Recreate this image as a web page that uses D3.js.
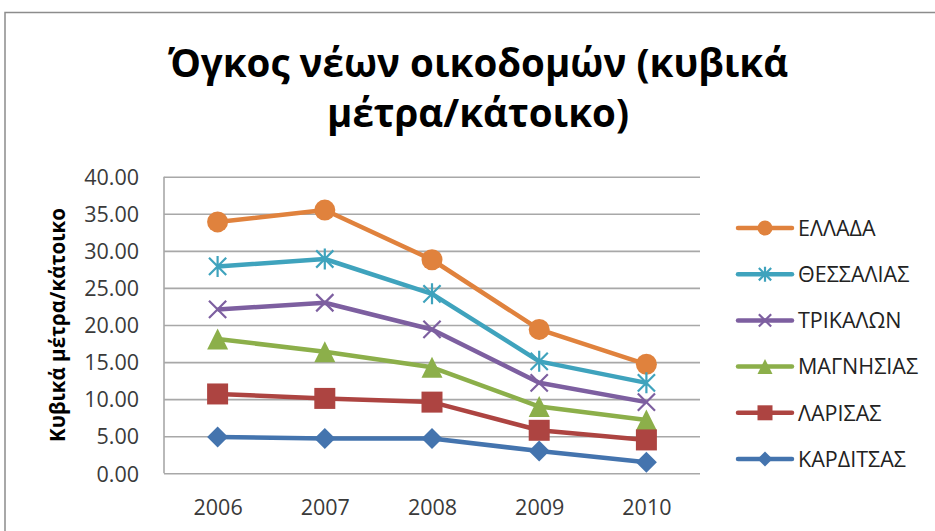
<!DOCTYPE html>
<html>
<head>
<meta charset="utf-8">
<script src="https://cdn.jsdelivr.net/npm/d3@7"></script>
<style>
  body { margin: 0; background: #fff; }
  svg { display: block; }
  .tick-label { font-family: "Open Sans", sans-serif; fill: #3a3a3a; }
</style>
</head>
<body>
<div id="chart"></div>
<script>
// Όγκος νέων οικοδομών ανά κάτοικο, 2006-2010

let years = ["2006", "2007", "2008", "2009", "2010"];
let yTicks = [0, 5, 10, 15, 20, 25, 30, 35, 40];

let ellada     = [33.9, 35.5, 28.8, 19.4, 14.7];
let thessalias = [27.9, 28.9, 24.2, 15.1, 12.2];
let trikalon   = [22.1, 23.0, 19.4, 12.2, 9.6];
let magnisias  = [18.1, 16.4, 14.3, 9.0, 7.2];
let larisas    = [10.7, 10.1, 9.6, 5.8, 4.5];
let karditsas  = [4.9, 4.7, 4.7, 3.0, 1.5];

let seriesNames = ["ΕΛΛΑΔΑ", "ΘΕΣΣΑΛΙΑΣ", "ΤΡΙΚΑΛΩΝ", "ΜΑΓΝΗΣΙΑΣ", "ΛΑΡΙΣΑΣ", "ΚΑΡΔΙΤΣΑΣ"];
let seriesValues = [ellada, thessalias, trikalon, magnisias, larisas, karditsas];

let colors  = ["#E0823D", "#3FA3BD", "#7D5FA0", "#8CAF4A", "#AD4441", "#4474AE"];
let markers = ["circle", "star", "x", "triangle", "square", "diamond"];

let series = seriesNames.map(function(name, i) {
    return {name: name, color: colors[i], marker: markers[i],
            values: seriesValues[i].map(function(v, j) { return {year: years[j], value: v}; })};
});

let W = 935, H = 531;
let plot = {left: 164, right: 700, top: 176.7, bottom: 473.3};

let svg = d3.select("#chart").append("svg")
    .attr("width", W)
    .attr("height", H);

// outer frame of the chart
svg.append("rect")
    .attr("x", 5).attr("y", 12.5)
    .attr("width", W + 20).attr("height", H + 20)
    .attr("fill", "none")
    .attr("stroke", "#8c8c8c")
    .attr("stroke-width", 1.5);

let x = d3.scalePoint()
    .domain(years)
    .range([plot.left, plot.right])
    .padding(0.5);

let y = d3.scaleLinear()
    .domain([0, 40])
    .range([plot.bottom, plot.top]);

// marker shapes, s = box size
function markerPath(type, s) {
    let h = s / 2;
    if (type == "circle") return d3.symbol(d3.symbolCircle, Math.PI * h * h)();
    if (type == "square") return "M" + (-h) + "," + (-h) + "h" + s + "v" + s + "h" + (-s) + "Z";
    if (type == "triangle") return "M0," + (-h) + "L" + h + "," + h + "L" + (-h) + "," + h + "Z";
    if (type == "diamond") return "M0," + (-h) + "L" + h + ",0L0," + h + "L" + (-h) + ",0Z";
    let k = h * 0.82;
    let p = "M" + (-k) + "," + (-k) + "L" + k + "," + k + "M" + k + "," + (-k) + "L" + (-k) + "," + k;
    if (type == "star") p += "M0," + (-h) + "V" + h;
    return p;
}

function drawMarker(sel, d, s) {
    let stroked = d.marker == "star" || d.marker == "x";
    sel.append("path")
        .attr("d", markerPath(d.marker, s))
        .attr("fill", stroked ? "none" : d.color)
        .attr("stroke", d.color)
        .attr("stroke-width", stroked ? 2.2 : 0);
}

// grid
let yAxis = d3.axisLeft(y)
    .tickValues(yTicks)
    .tickSize(-(plot.right - plot.left))
    .tickFormat(d3.format(".2f"));

let gy = svg.append("g")
    .attr("class", "y axis")
    .attr("transform", "translate(" + plot.left + ",0)")
    .call(yAxis);
gy.select(".domain").remove();
gy.selectAll(".tick line").attr("stroke", "#a8a8a8").attr("stroke-width", 1.6);
gy.selectAll(".tick text")
    .attr("class", "tick-label")
    .attr("x", -25)
    .attr("dy", "0.36em")
    .style("font-size", "21.5px");

svg.append("line")
    .attr("x1", plot.left).attr("x2", plot.left)
    .attr("y1", plot.top).attr("y2", plot.bottom)
    .attr("stroke", "#a8a8a8").attr("stroke-width", 1.6);

let xAxis = d3.axisBottom(x).tickSize(0);
let gx = svg.append("g")
    .attr("class", "x axis")
    .attr("transform", "translate(0," + plot.bottom + ")")
    .call(xAxis);
gx.select(".domain").remove();
gx.selectAll(".tick text")
    .attr("class", "tick-label")
    .attr("y", 42)
    .attr("dy", "0")
    .style("font-size", "21.5px");

// lines
let line = d3.line()
    .x(function(d) { return x(d.year); })
    .y(function(d) { return y(d.value); });

series.forEach(function(s) {
    svg.append("path")
        .datum(s.values)
        .attr("fill", "none")
        .attr("stroke", s.color)
        .attr("stroke-width", 4.5)
        .attr("stroke-linejoin", "round")
        .attr("d", line);

    s.values.forEach(function(v) {
        let g = svg.append("g")
            .attr("transform", "translate(" + x(v.year) + "," + y(v.value) + ")");
        drawMarker(g, s, 21);
    });
});

// title
let title = svg.append("text")
    .attr("text-anchor", "middle")
    .style("font-family", "'Open Sans', sans-serif")
    .style("font-weight", "bold")
    .style("font-size", "38.5px")
    .attr("fill", "#000");
title.append("tspan").attr("x", 478).attr("y", 77).text("Όγκος νέων οικοδομών (κυβικά");
title.append("tspan").attr("x", 478).attr("y", 127).text("μέτρα/κάτοικο)");

// y axis title
svg.append("text")
    .attr("transform", "translate(65," + ((plot.top + plot.bottom) / 2) + ") rotate(-90)")
    .attr("text-anchor", "middle")
    .style("font-family", "'Open Sans', sans-serif")
    .style("font-weight", "bold")
    .style("font-size", "20.5px")
    .attr("fill", "#000")
    .text("Κυβικά μέτρα/κάτοικο");

// legend
let legend = svg.selectAll(".legend")
    .data(series)
    .enter().append("g")
    .attr("class", "legend")
    .attr("transform", function(d, i) { return "translate(738," + (228 + i * 46.2) + ")"; });

legend.append("line")
    .attr("x1", 0).attr("x2", 54)
    .attr("stroke", function(d) { return d.color; })
    .attr("stroke-width", 4.5)
    .attr("stroke-linecap", "round");

legend.each(function(d) {
    let g = d3.select(this).append("g").attr("transform", "translate(27,0)");
    drawMarker(g, d, 15);
});

legend.append("text")
    .attr("class", "tick-label")
    .attr("x", 60)
    .attr("dy", "0.36em")
    .style("font-size", "21.5px")
    .style("fill", "#222")
    .text(function(d) { return d.name; });
</script>
</body>
</html>
